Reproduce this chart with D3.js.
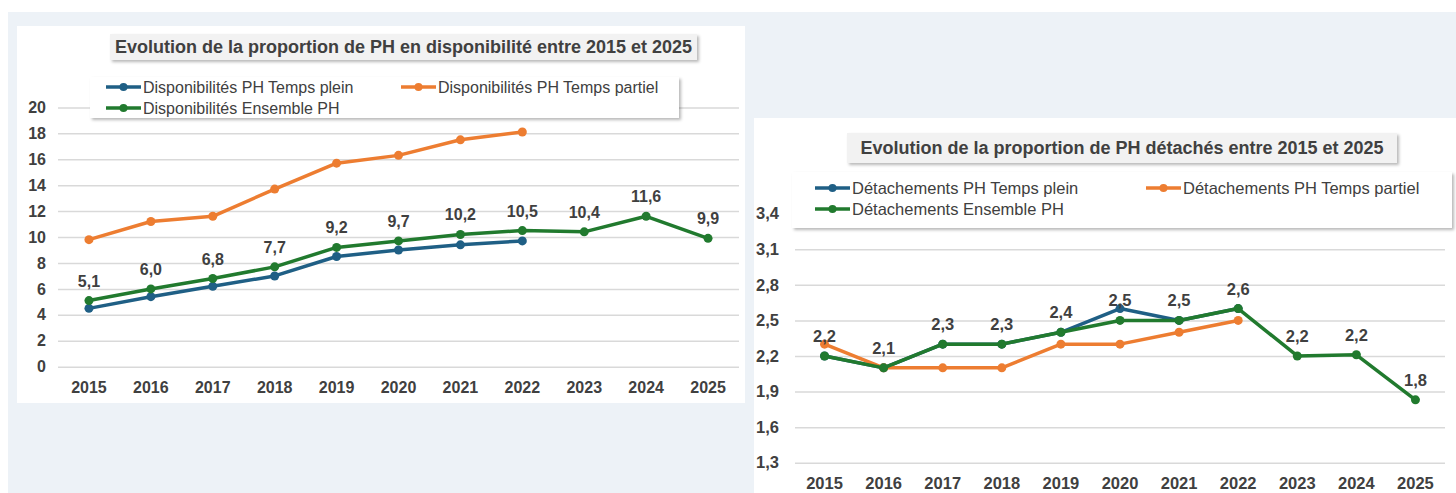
<!DOCTYPE html>
<html>
<head>
<meta charset="utf-8">
<script src="https://cdn.jsdelivr.net/npm/d3@7"></script>
<style>
  html, body { margin: 0; padding: 0; background: #fff; }
  svg { display: block; font-family: "Liberation Sans", Arial, sans-serif; }
</style>
</head>
<body>
<svg id="chart" width="1456" height="493"></svg>
<script>
// data
const years = ['2015', '2016', '2017', '2018', '2019', '2020', '2021', '2022', '2023', '2024', '2025']

const dispoTempsPlein = [4.5, 5.4, 6.2, 7.0, 8.5, 9.0, 9.4, 9.7, null, null, null]
const dispoTempsPartiel = [9.8, 11.2, 11.6, 13.7, 15.7, 16.3, 17.5, 18.1, null, null, null]
const dispoEnsemble = [5.1, 6.0, 6.8, 7.7, 9.2, 9.7, 10.2, 10.5, 10.4, 11.6, 9.9]
const dispoTicks = [0, 2, 4, 6, 8, 10, 12, 14, 16, 18, 20]

const detachTempsPlein = [2.2, 2.1, 2.3, 2.3, 2.4, 2.6, 2.5, 2.6, null, null, null]
const detachTempsPartiel = [2.3, 2.1, 2.1, 2.1, 2.3, 2.3, 2.4, 2.5, null, null, null]
const detachEnsemble = [2.2, 2.1, 2.3, 2.3, 2.4, 2.5, 2.5, 2.6, 2.2, 2.21, 1.83]
const detachTicks = [1.3, 1.6, 1.9, 2.2, 2.5, 2.8, 3.1, 3.4]

const COLORS = { plein: '#1f5f85', partiel: '#ed7d31', ensemble: '#217a2e' }
const TEXT = '#404040'

const fr = d3.formatLocale({ decimal: ',', thousands: ' ', grouping: [3], currency: ['', ' €'] })
const f1 = fr.format('.1f')

const svg = d3.select('#chart')

const defs = svg.append('defs')
defs.append('filter')
    .attr('id', 'shadow')
    .attr('x', '-5%').attr('y', '-30%').attr('width', '110%').attr('height', '170%')
  .append('feDropShadow')
    .attr('dx', 2).attr('dy', 2).attr('stdDeviation', 1.8)
    .attr('flood-color', '#000').attr('flood-opacity', 0.28)

// page background
svg.append('rect').attr('x', 8).attr('y', 12).attr('width', 1448).attr('height', 481).attr('fill', '#edf2f7')

function drawChart(cfg) {
  const { panel, plot, title, legend, series, ticks, tickFmt, fs } = cfg

  svg.append('rect')
    .attr('x', panel.x).attr('y', panel.y)
    .attr('width', panel.w).attr('height', panel.h)
    .attr('fill', '#fff')

  const x = d3.scaleBand()
    .domain(years)
    .range([plot.left, plot.right])
    .padding(0)

  const y = d3.scaleLinear()
    .domain([ticks[0], ticks[ticks.length - 1]])
    .range([plot.bottom, plot.top])

  const g = svg.append('g')

  // gridlines + y labels
  const yAxis = g.append('g')
    .attr('transform', 'translate(' + plot.left + ',0)')
    .call(d3.axisLeft(y)
      .tickValues(ticks)
      .tickSize(-(plot.right - plot.left))
      .tickPadding(plot.yPad)
      .tickFormat(tickFmt))
  yAxis.select('.domain').remove()
  yAxis.selectAll('line').attr('stroke', '#d9d9d9').attr('stroke-width', 1.5)
  yAxis.selectAll('text')
    .attr('fill', TEXT)
    .style('font-size', fs + 'px')
    .style('font-weight', 'bold')

  // x labels
  const xAxis = g.append('g')
    .attr('transform', 'translate(0,' + plot.bottom + ')')
    .call(d3.axisBottom(x).tickSize(0).tickPadding(plot.xPad))
  xAxis.select('.domain').remove()
  xAxis.selectAll('text')
    .attr('fill', TEXT)
    .style('font-size', fs + 'px')
    .style('font-weight', 'bold')

  // title box
  svg.append('rect')
    .attr('x', title.x).attr('y', title.y)
    .attr('width', title.w).attr('height', title.h)
    .attr('fill', '#f2f2f2')
    .attr('filter', 'url(#shadow)')
  svg.append('text')
    .attr('x', title.x + title.w / 2)
    .attr('y', title.y + title.h / 2)
    .attr('dy', '0.36em')
    .attr('text-anchor', 'middle')
    .attr('fill', TEXT)
    .style('font-size', title.fs + 'px')
    .style('font-weight', 'bold')
    .text(title.text)

  // legend box
  svg.append('rect')
    .attr('x', legend.x).attr('y', legend.y)
    .attr('width', legend.w).attr('height', legend.h)
    .attr('fill', '#fff')
    .attr('filter', 'url(#shadow)')

  const items = svg.selectAll('.legend-item-' + cfg.id)
      .data(series)
    .enter().append('g')
      .attr('class', 'legend-item-' + cfg.id)
      .attr('transform', (d, i) => 'translate(' + legend.cols[i % 2] + ',' + legend.rows[Math.floor(i / 2)] + ')')
  items.append('line')
    .attr('x1', 0).attr('x2', 35)
    .attr('stroke', d => d.color).attr('stroke-width', 3.5)
  items.append('circle')
    .attr('cx', 17.5).attr('r', 4)
    .attr('fill', d => d.color)
  items.append('text')
    .attr('x', 37)
    .attr('dy', '0.35em')
    .attr('fill', TEXT)
    .style('font-size', legend.fs + 'px')
    .text(d => d.name)

  // lines
  const line = d3.line()
    .defined(d => d != null)
    .x((d, i) => x(years[i]) + x.bandwidth() / 2)
    .y(d => y(d))

  const sg = g.selectAll('.series-' + cfg.id)
      .data(series)
    .enter().append('g')
      .attr('class', 'series-' + cfg.id)

  sg.append('path')
    .attr('d', d => line(d.values))
    .attr('fill', 'none')
    .attr('stroke', d => d.color)
    .attr('stroke-width', 3.5)
    .attr('stroke-linejoin', 'round')

  sg.selectAll('circle')
      .data(d => d.values.map((v, i) => ({ v, i, color: d.color })).filter(p => p.v != null))
    .enter().append('circle')
      .attr('cx', p => x(years[p.i]) + x.bandwidth() / 2)
      .attr('cy', p => y(p.v))
      .attr('r', 4.5)
      .attr('fill', p => p.color)

  // data labels on the "Ensemble" series
  const lab = series.find(s => s.labels)
  g.selectAll('.label-' + cfg.id)
      .data(lab.values)
    .enter().append('text')
      .attr('class', 'label-' + cfg.id)
      .attr('x', (d, i) => x(years[i]) + x.bandwidth() / 2)
      .attr('y', d => y(d) - 14)
      .attr('text-anchor', 'middle')
      .attr('fill', TEXT)
      .style('font-size', fs + 'px')
      .style('font-weight', 'bold')
      .text(d => f1(d))
}

drawChart({
  id: 'dispo',
  fs: 16,
  panel: { x: 17, y: 26, w: 728, h: 377 },
  plot: { left: 58, right: 739, top: 107.4, bottom: 366.7, yPad: 12, xPad: 15 },
  title: { x: 110, y: 34, w: 587, h: 26, fs: 18, text: 'Evolution de la proportion de PH en disponibilité entre 2015 et 2025' },
  legend: { x: 90, y: 77, w: 589, h: 41, fs: 16, cols: [106, 401], rows: [87, 108] },
  ticks: dispoTicks,
  tickFmt: d3.format('d'),
  series: [
    { name: 'Disponibilités PH Temps plein', values: dispoTempsPlein, color: COLORS.plein },
    { name: 'Disponibilités PH Temps partiel', values: dispoTempsPartiel, color: COLORS.partiel },
    { name: 'Disponibilités Ensemble PH', values: dispoEnsemble, color: COLORS.ensemble, labels: true }
  ]
})

drawChart({
  id: 'detach',
  fs: 16.5,
  panel: { x: 754, y: 118, w: 702, h: 375 },
  plot: { left: 795, right: 1445, top: 213.7, bottom: 462.7, yPad: 16, xPad: 14.5 },
  title: { x: 847, y: 133, w: 550, h: 30, fs: 18, text: 'Evolution de la proportion de PH détachés entre 2015 et 2025' },
  legend: { x: 792, y: 172, w: 660, h: 56, fs: 16.5, cols: [815, 1146], rows: [188, 209] },
  ticks: detachTicks,
  tickFmt: f1,
  series: [
    { name: 'Détachements PH Temps plein', values: detachTempsPlein, color: COLORS.plein },
    { name: 'Détachements PH Temps partiel', values: detachTempsPartiel, color: COLORS.partiel },
    { name: 'Détachements Ensemble PH', values: detachEnsemble, color: COLORS.ensemble, labels: true }
  ]
})
</script>
</body>
</html>
